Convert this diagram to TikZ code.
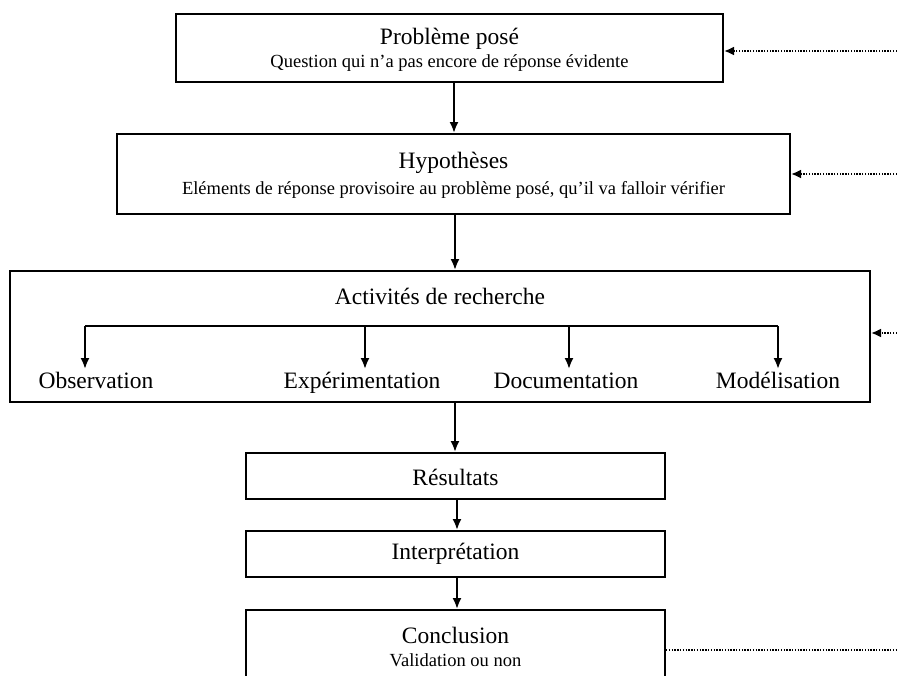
\documentclass[tikz,border=0pt]{standalone}
\usepackage{fontspec}
\setmainfont{Liberation Serif}
\usetikzlibrary{arrows.meta}
\tikzset{
  box/.style={draw, line width=2pt, inner sep=0pt},
  ttl/.style={font=\fontsize{23.5}{26}\selectfont, inner sep=0pt},
  sub/.style={font=\fontsize{18.5}{20}\selectfont, inner sep=0pt},
  arr/.style={line width=2pt, -{Latex[length=11pt,width=9pt]}},
  fb/.style={line width=2.2pt, dash pattern=on 1.4pt off 1.4pt, -{Latex[length=10pt,width=9pt]}},
  fbl/.style={line width=2.2pt, dash pattern=on 1.4pt off 1.4pt}
}
\begin{document}
\begin{tikzpicture}[x=1pt,y=-1pt]
\useasboundingbox (0,0) rectangle (897,675);
\clip (0,0) rectangle (897,675);
% boxes
\node[box, minimum width=547pt, minimum height=68pt] (p) at (449.5,48) {};
\node[box, minimum width=673pt, minimum height=80pt] (h) at (453.5,174) {};
\node[box, minimum width=860pt, minimum height=131pt] (a) at (440,336.5) {};
\node[box, minimum width=419pt, minimum height=46pt] (r) at (455.5,476) {};
\node[box, minimum width=419pt, minimum height=46pt] (i) at (455.5,554) {};
\node[box, minimum width=419pt, minimum height=80pt] (c) at (455.5,650) {};
% texts
\node[ttl] (pt) at (449.5,39) {Problème posé};
\node[sub] (ps) at (449.5,63) {Question qui n’a pas encore de réponse évidente};
\node[ttl] (ht) at (453.5,163) {Hypothèses};
\node[sub] (hs) at (453.5,190) {Eléments de réponse provisoire au problème posé, qu’il va falloir vérifier};
\node[ttl] (at) at (440,296) {Activités de recherche};
\node[ttl, anchor=base] (o1) at (96,388) {Observation};
\node[ttl, anchor=base] (o2) at (362,388) {Expérimentation};
\node[ttl, anchor=base] (o3) at (566,388) {Documentation};
\node[ttl, anchor=base] (o4) at (778,388) {Modélisation};
\node[ttl] (rt) at (455.5,477) {Résultats};
\node[ttl] (it) at (455.5,554) {Interprétation};
\node[ttl] (ct) at (455.5,635) {Conclusion};
\node[sub] (cs) at (455.5,660) {Validation ou non};
% branch line
\coordinate (b1) at (85,326);
\coordinate (b2) at (365,326);
\coordinate (b3) at (569,326);
\coordinate (b4) at (778,326);
\draw[line width=2pt] (b1) -- (b4);
\draw[arr] (b1) -- (85,369);
\draw[arr] (b2) -- (365,369);
\draw[arr] (b3) -- (569,369);
\draw[arr] (b4) -- (778,369);
% main flow
\draw[arr] (p.south -| 454,0) -- (h.north -| 454,0);
\draw[arr] (h.south -| 455,0) -- (a.north -| 455,0);
\draw[arr] (a.south -| 455,0) -- (r.north -| 455,0);
\draw[arr] (r.south -| 457,0) -- (i.north -| 457,0);
\draw[arr] (i.south -| 457,0) -- (c.north -| 457,0);
% feedback dotted
\coordinate (e1) at (897,51);
\coordinate (e2) at (897,174);
\coordinate (e3) at (897,333);
\coordinate (e4) at (897,650);
\draw[fb] (e1) -- (p.east |- e1);
\draw[fb] (e2) -- (h.east |- e2);
\draw[fb] (e3) -- (a.east |- e3);
\draw[fbl] (c.east |- e4) -- (e4);
\end{tikzpicture}
\end{document}
